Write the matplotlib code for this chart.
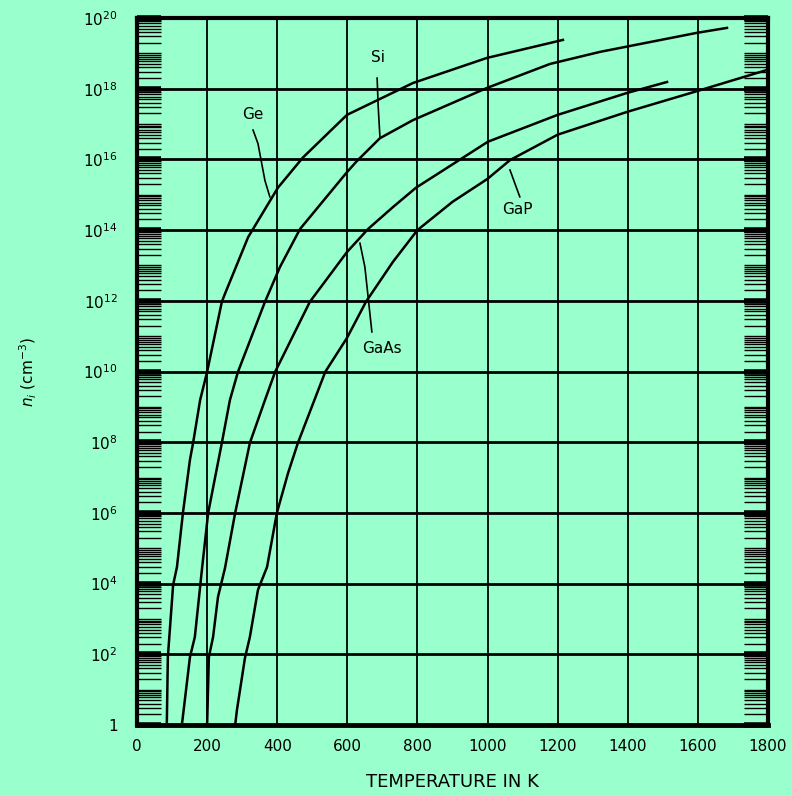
import matplotlib
matplotlib.use('Agg')
import matplotlib.pyplot as plt
from matplotlib.ticker import LogLocator, FixedLocator, NullFormatter
import numpy as np

# intrinsic carrier density: temperature (K) and log10(n_i)
ge_T = [85, 88, 103, 114, 131, 151, 160, 180, 200, 242, 251, 317, 331, 402, 473, 599, 787, 998, 1215]
ge_log = [0.0, 1.92, 3.96, 4.47, 6.0, 7.5, 7.98, 9.19, 9.99, 11.97, 12.2, 13.8, 14.03, 15.2, 16.05, 17.26, 18.16, 18.87, 19.38]

si_T = [128, 151, 165, 185, 203, 242, 265, 288, 365, 408, 465, 599, 627, 693, 787, 998, 1178, 1320, 1597, 1683]
si_log = [0.0, 1.92, 2.49, 4.38, 6.0, 7.98, 9.19, 9.99, 11.97, 12.96, 14.03, 15.64, 15.95, 16.6, 17.11, 18.02, 18.7, 19.04, 19.58, 19.72]

gaas_T = [200, 205, 217, 231, 251, 280, 322, 365, 394, 493, 599, 659, 730, 796, 1001, 1200, 1398, 1512]
gaas_log = [0.0, 1.92, 2.49, 3.62, 4.44, 6.0, 7.98, 9.19, 9.99, 11.97, 13.38, 14.03, 14.65, 15.2, 16.5, 17.26, 17.88, 18.19]

gap_T = [280, 285, 308, 322, 345, 371, 399, 431, 459, 537, 599, 653, 730, 800, 900, 1000, 1064, 1200, 1400, 1597, 1797]
gap_log = [0.0, 0.42, 1.9, 2.49, 3.82, 4.47, 6.0, 7.13, 7.98, 9.99, 10.95, 11.97, 13.1, 14.0, 14.8, 15.45, 15.98, 16.7, 17.35, 17.93, 18.53]

x_ticks = [0, 200, 400, 600, 800, 1000, 1200, 1400, 1600, 1800]
y_exps = [0, 2, 4, 6, 8, 10, 12, 14, 16, 18, 20]

bg = '#99ffcc'

fig = plt.figure(figsize=(7.92, 7.96), dpi=100, facecolor=bg)
ax = fig.add_axes([137 / 792, 71 / 796, 631 / 792, 707 / 796], facecolor=bg)
ax.set_yscale('log')
ax.set_xlim(0, 1800)
ax.set_ylim(1, 1e20)

# grid
for t in x_ticks[1:-1]:
    ax.axvline(t, color='black', lw=1.3, zorder=1)
for e in y_exps[1:-1]:
    ax.axhline(10.0 ** e, color='black', lw=2.0, zorder=1)

# curves
for T, lg in [(ge_T, ge_log), (si_T, si_log), (gaas_T, gaas_log), (gap_T, gap_log)]:
    ax.plot(T, 10.0 ** np.array(lg), color='black', lw=1.8, zorder=3)

# labels with leader lines
txt = dict(fontsize=11, color='black', ha='center', va='center', zorder=4)
ax.text(687, 10 ** 18.87, 'Si', **txt)
ax.plot([685, 688, 693], 10.0 ** np.array([18.3, 17.5, 16.63]), color='black', lw=1.2)
ax.text(331, 10 ** 17.26, 'Ge', **txt)
ax.plot([331, 345, 365, 379], 10.0 ** np.array([16.83, 16.45, 15.4, 14.94]), color='black', lw=1.2)
ax.text(1086, 10 ** 14.57, 'GaP', **txt)
ax.plot([1064, 1075, 1092], 10.0 ** np.array([15.7, 15.4, 14.94]), color='black', lw=1.2)
ax.text(699, 10 ** 10.66, 'GaAs', **txt)
ax.plot([636, 650, 670], 10.0 ** np.array([13.63, 12.96, 11.12]), color='black', lw=1.2)

# axes styling
for side in ['left', 'right', 'top', 'bottom']:
    ax.spines[side].set_linewidth(3)
ax.spines['bottom'].set_linewidth(3.5)

ax.xaxis.set_major_locator(FixedLocator(x_ticks))
ax.set_xticklabels([str(t) for t in x_ticks])
ax.tick_params(axis='x', which='major', direction='in', length=0, pad=10, labelsize=11)

ax.yaxis.set_major_locator(FixedLocator([10.0 ** e for e in y_exps]))
ax.set_yticklabels(['1'] + ['$10^{%d}$' % e for e in y_exps[1:]])
ax.yaxis.set_minor_locator(LogLocator(base=10, subs=np.arange(1, 10), numticks=100))
ax.yaxis.set_minor_formatter(NullFormatter())
ax.tick_params(axis='y', which='major', direction='in', length=17, width=4,
               left=True, right=True, pad=14, labelsize=11)
ax.tick_params(axis='y', which='minor', direction='in', length=17, width=1.0,
               left=True, right=True)

ax.set_ylabel('$n_i$ (cm$^{-3}$)', fontsize=11, labelpad=32)
ax.set_xlabel('TEMPERATURE IN K', fontsize=13, labelpad=14)

plt.savefig('out.png', dpi=100, facecolor=bg)
plt.close()
